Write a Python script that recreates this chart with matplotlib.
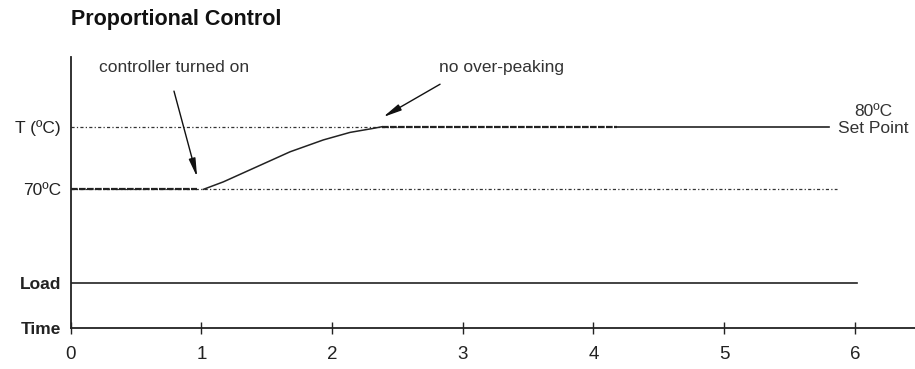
import matplotlib
matplotlib.use("Agg")
import matplotlib.pyplot as plt

plt.rcParams['font.family'] = ['Liberation Sans', 'DejaVu Sans']

# ---- data ----
title = "Proportional Control"
time_ticks = [0, 1, 2, 3, 4, 5, 6]
initial_temp = 70
set_point = 80
load_level = 55.1
time_axis_level = 47.8

# process temperature: flat before controller on
pre_t = [0.0, 0.965]
pre_T = [70, 70]
# rise after controller turned on
rise_t = [1.015, 1.168, 1.423, 1.678, 1.933, 2.137, 2.303, 2.38]
rise_T = [70.0, 71.2, 73.6, 76.0, 77.9, 79.1, 79.7, 80.0]
# hold at set point (dense dashed part, then solid)
hold_dash_t = [2.38, 4.18]
hold_solid_t = [4.18, 5.80]

ref80_t = [0.0, 2.5]
ref70_t = [0.0, 5.86]
load_t = [0.0, 6.02]

ytick_vals = [set_point, initial_temp, load_level, time_axis_level]
ytick_labels = ["T (ºC)", "70ºC", "Load", "Time"]

# ---- figure ----
fig = plt.figure(figsize=(9.15, 3.69), dpi=100)
ax = fig.add_axes([0.0773, 0.1103, 0.9227, 0.7344])
ax.set_xlim(0, 6.46)
ax.set_ylim(time_axis_level, 91.1)

for s in ['top', 'right']:
    ax.spines[s].set_visible(False)
ax.spines['left'].set_linewidth(1.3)
ax.spines['bottom'].set_linewidth(1.3)
ax.spines['left'].set_color('#222222')
ax.spines['bottom'].set_color('#222222')

refstyle = dict(color='#333333', lw=0.9, dashes=(2.5, 1.8, 1, 1.8))
ax.plot(ref80_t, [set_point] * 2, **refstyle)
ax.plot(ref70_t, [initial_temp] * 2, **refstyle)

ax.plot(pre_t, pre_T, color='#222222', lw=1.6, dashes=(3, 0.6))
ax.plot(rise_t, rise_T, color='#222222', lw=1.1)
ax.plot(hold_dash_t, [set_point] * 2, color='#222222', lw=1.6, dashes=(3, 0.6))
ax.plot(hold_solid_t, [set_point] * 2, color='#222222', lw=1.2)
ax.plot(load_t, [load_level] * 2, color='#222222', lw=1.2)

ax.set_xticks(time_ticks)
ax.set_xticklabels([str(t) for t in time_ticks])
ax.tick_params(axis='x', direction='inout', length=8, width=1, pad=9,
               labelsize=13.5, colors='#222222')

ax.set_yticks(ytick_vals)
ax.set_yticklabels(ytick_labels)
ax.tick_params(axis='y', length=0, pad=7, labelsize=12.5, colors='#222222')
for lab in ax.get_yticklabels():
    if lab.get_text() in ("Load", "Time"):
        lab.set_fontweight('bold')

# annotations
arrow = dict(arrowstyle='-|>,head_length=1.1,head_width=0.2',
             color='#111111', lw=1.0, shrinkA=0, shrinkB=0)
ax.annotate("", xy=(0.967, 71.96), xytext=(0.79, 85.7), arrowprops=arrow)
ax.text(0.217, 89.4, "controller turned on", ha='left', va='center',
        fontsize=12.5, color='#333333')
ax.annotate("", xy=(2.39, 81.55), xytext=(2.826, 86.8), arrowprops=arrow)
ax.text(2.818, 89.5, "no over-peaking", ha='left', va='center',
        fontsize=12.5, color='#333333')

ax.text(6.14, 82.5, "80ºC", ha='center', va='center', fontsize=12.5, color='#333333')
ax.text(6.14, 79.74, "Set Point", ha='center', va='center', fontsize=12.5, color='#333333')

fig.text(70.7 / 915, 1 - 20 / 369, title, ha='left', va='center',
         fontsize=15.5, fontweight='bold', color='#111111')

fig.savefig("out.png", dpi=100)
